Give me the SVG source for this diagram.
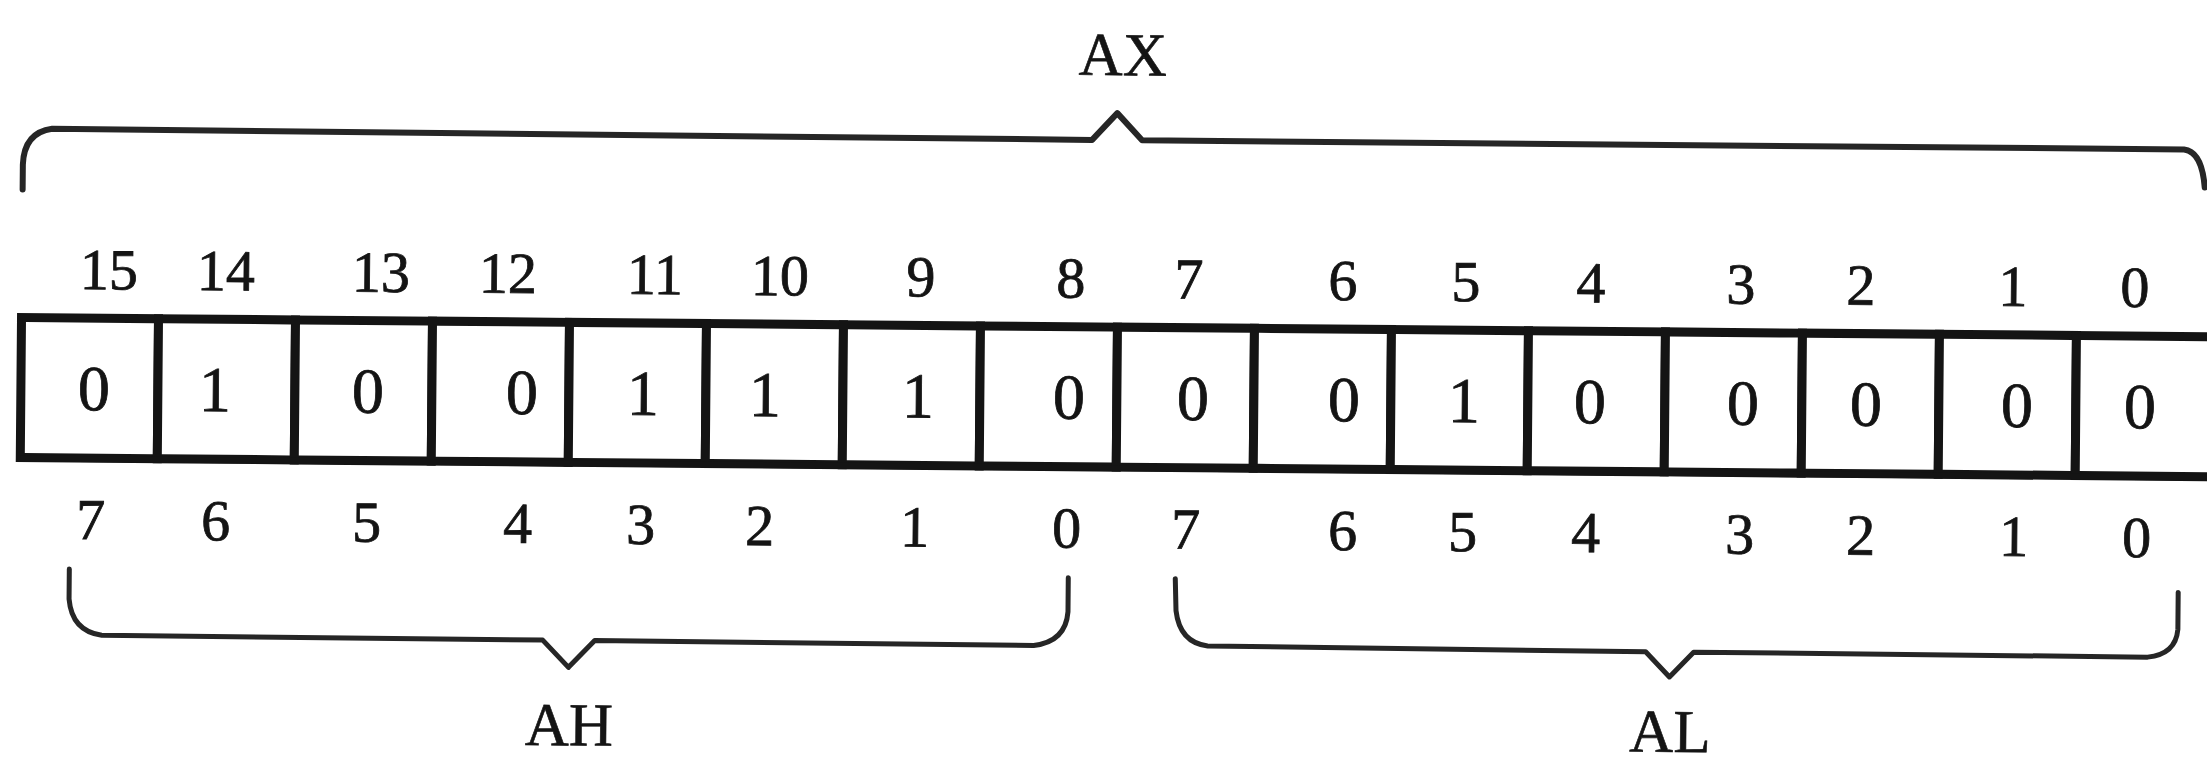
<svg xmlns="http://www.w3.org/2000/svg" width="2207" height="762" viewBox="0 0 2207 762">
<style>
.cell{fill:#fff;stroke:#141414;stroke-width:9}
.val{font-family:"Liberation Serif","Times New Roman",serif;font-size:64px;fill:#141414;stroke:#141414;stroke-width:0.8;text-anchor:middle}
.bit{font-family:"Liberation Serif","Times New Roman",serif;font-size:58px;fill:#141414;stroke:#141414;stroke-width:0.8;text-anchor:middle}
.name{font-family:"Liberation Serif","Times New Roman",serif;font-size:61px;fill:#141414;stroke:#141414;stroke-width:0.6;text-anchor:middle}
.brace{fill:none;stroke:#262626;stroke-width:5;stroke-linejoin:round;stroke-linecap:round}
</style>
<rect x="0" y="0" width="2207" height="762" fill="#fff"/>
<g transform="rotate(0.5 1103 381)">
<g id="braces">
<path id="brace-ax" class="brace" style="stroke-width:6" d="M21 199 L21 174 Q22 142 50 138 L1090 140 L1115 113 L1140 140 L2182 140 Q2200 142 2203 178"/>
<path id="brace-ah" class="brace" d="M71 578 L71 608 Q74 640 104 644 L545 645 L571 672 L597 645 L1036 646 Q1068 642 1070 612 L1070 578"/>
<path id="brace-al" class="brace" d="M1177 578 L1178 610 Q1182 642 1210 645 L1648 647 L1672 672 L1696 647 L2150 648 Q2178 645 2180 620 L2180 583"/>
</g>
<g id="label-ax"><text class="name" x="1120" y="75">AX</text></g>
<g id="label-ah"><text class="name" x="572" y="750">AH</text></g>
<g id="label-al"><text class="name" x="1673" y="747">AL</text></g>
<g id="bit-numbers-ax">
<text class="bit" x="108" y="298">15</text>
<text class="bit" x="225" y="298">14</text>
<text class="bit" x="380" y="298">13</text>
<text class="bit" x="507" y="298">12</text>
<text class="bit" x="654" y="298">11</text>
<text class="bit" x="779" y="298">10</text>
<text class="bit" x="920" y="298">9</text>
<text class="bit" x="1070" y="298">8</text>
<text class="bit" x="1188" y="298">7</text>
<text class="bit" x="1342" y="298">6</text>
<text class="bit" x="1465" y="298">5</text>
<text class="bit" x="1590" y="298">4</text>
<text class="bit" x="1740" y="298">3</text>
<text class="bit" x="1860" y="298">2</text>
<text class="bit" x="2012" y="298">1</text>
<text class="bit" x="2134" y="298">0</text>
</g>
<g id="cells">
<g id="cell-15"><rect class="cell" x="21" y="327" width="137" height="140"/><text class="val" x="94" y="419">0</text></g>
<g id="cell-14"><rect class="cell" x="158" y="327" width="137" height="140"/><text class="val" x="215" y="419">1</text></g>
<g id="cell-13"><rect class="cell" x="295" y="327" width="137" height="140"/><text class="val" x="368" y="419">0</text></g>
<g id="cell-12"><rect class="cell" x="432" y="327" width="137" height="140"/><text class="val" x="522" y="419">0</text></g>
<g id="cell-11"><rect class="cell" x="569" y="327" width="137" height="140"/><text class="val" x="643" y="419">1</text></g>
<g id="cell-10"><rect class="cell" x="706" y="327" width="137" height="140"/><text class="val" x="765" y="419">1</text></g>
<g id="cell-9"><rect class="cell" x="843" y="327" width="137" height="140"/><text class="val" x="918" y="419">1</text></g>
<g id="cell-8"><rect class="cell" x="980" y="327" width="137" height="140"/><text class="val" x="1069" y="419">0</text></g>
<g id="cell-7"><rect class="cell" x="1117" y="327" width="137" height="140"/><text class="val" x="1193" y="419">0</text></g>
<g id="cell-6"><rect class="cell" x="1254" y="327" width="137" height="140"/><text class="val" x="1344" y="419">0</text></g>
<g id="cell-5"><rect class="cell" x="1391" y="327" width="137" height="140"/><text class="val" x="1464" y="419">1</text></g>
<g id="cell-4"><rect class="cell" x="1528" y="327" width="137" height="140"/><text class="val" x="1590" y="419">0</text></g>
<g id="cell-3"><rect class="cell" x="1665" y="327" width="137" height="140"/><text class="val" x="1743" y="419">0</text></g>
<g id="cell-2"><rect class="cell" x="1802" y="327" width="137" height="140"/><text class="val" x="1866" y="419">0</text></g>
<g id="cell-1"><rect class="cell" x="1939" y="327" width="137" height="140"/><text class="val" x="2017" y="419">0</text></g>
<g id="cell-0"><rect class="cell" x="2076" y="327" width="137" height="140"/><text class="val" x="2140" y="419">0</text></g>
<path d="M21 468 L2213 468" fill="none" stroke="#141414" stroke-width="6"/>
</g>
<g id="bit-numbers-ah-al">
<text class="bit" x="92" y="548">7</text>
<text class="bit" x="217" y="548">6</text>
<text class="bit" x="368" y="548">5</text>
<text class="bit" x="519" y="548">4</text>
<text class="bit" x="642" y="548">3</text>
<text class="bit" x="761" y="548">2</text>
<text class="bit" x="916" y="548">1</text>
<text class="bit" x="1068" y="548">0</text>
<text class="bit" x="1187" y="548">7</text>
<text class="bit" x="1344" y="548">6</text>
<text class="bit" x="1464" y="548">5</text>
<text class="bit" x="1587" y="548">4</text>
<text class="bit" x="1741" y="548">3</text>
<text class="bit" x="1862" y="548">2</text>
<text class="bit" x="2015" y="548">1</text>
<text class="bit" x="2138" y="548">0</text>
</g>
</g>
</svg>
